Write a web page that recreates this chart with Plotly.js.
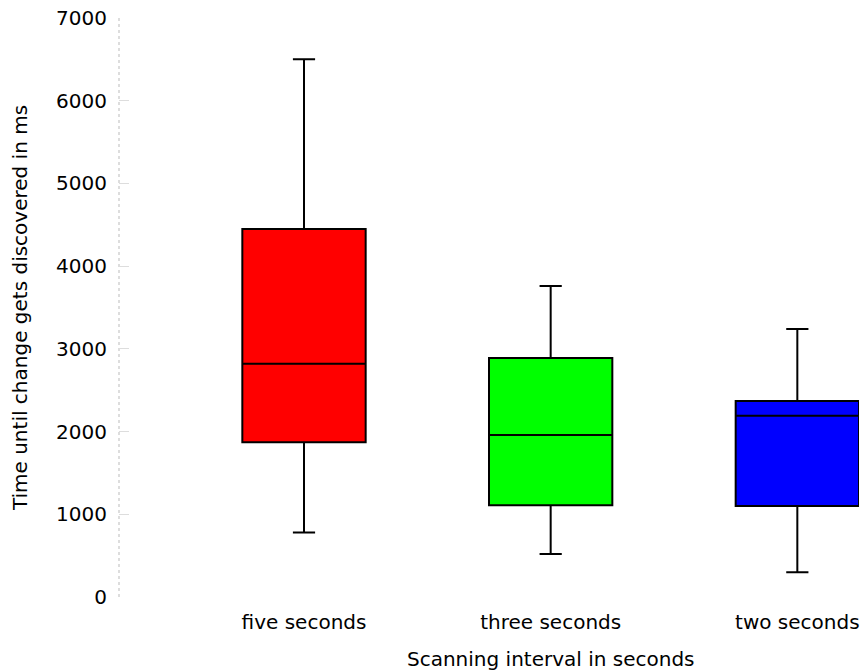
<!DOCTYPE html>
<html>
<head>
<meta charset="utf-8">
<script src="https://cdn.plot.ly/plotly-3.0.1.min.js"></script>
<style>html,body{margin:0;padding:0;background:#fff;}#chart{width:862px;height:671px;}</style>
</head>
<body>
<div id="chart"></div>
<script>
const categories = ['five seconds', 'three seconds', 'two seconds'];
const lowerWhisker = [780, 520, 300];
const q1Values = [1870, 1110, 1100];
const medianValues = [2820, 1960, 2190];
const q3Values = [4450, 2890, 2370];
const upperWhisker = [6500, 3760, 3240];
const boxColors = ['#ff0000', '#00ff00', '#0000ff'];
const yTickValues = [0, 1000, 2000, 3000, 4000, 5000, 6000, 7000];
const xTitle = 'Scanning interval in seconds';
const yTitle = 'Time until change gets discovered in ms';

const traces = categories.map((c, i) => ({
  type: 'box',
  x: [c],
  q1: [q1Values[i]],
  median: [medianValues[i]],
  q3: [q3Values[i]],
  lowerfence: [lowerWhisker[i]],
  upperfence: [upperWhisker[i]],
  fillcolor: boxColors[i],
  line: {color: '#000000', width: 2},
  whiskerwidth: 0.18,
  width: 0.5,
  boxpoints: false,
  hoverinfo: 'skip',
  showlegend: false
}));

const font = {family: 'DejaVu Sans, Verdana, sans-serif', size: 20, color: '#000'};

const layout = {
  width: 862, height: 671,
  margin: {l: 119, r: 3, t: 18, b: 74},
  paper_bgcolor: '#fff', plot_bgcolor: '#fff',
  font: font,
  boxmode: 'overlay',
  showlegend: false,
  xaxis: {
    type: 'category',
    categoryorder: 'array', categoryarray: categories,
    range: [-0.75, 2.25],
    showgrid: false, zeroline: false, showline: false,
    ticks: '', ticklabelstandoff: 11,
    tickfont: font
  },
  yaxis: {
    range: [0, 7000],
    tickvals: yTickValues,
    showgrid: false, zeroline: false, showline: false,
    ticks: 'inside', ticklen: 10, tickwidth: 1, tickcolor: '#dddddd',
    ticklabelstandoff: 11,
    tickfont: font,
    title: {text: yTitle, font: font, standoff: 23}
  },
  annotations: [{
    text: xTitle, xref: 'x', yref: 'paper', x: 1, y: 0,
    yshift: -62, xanchor: 'center', yanchor: 'middle',
    showarrow: false, font: font
  }],
  shapes: [{
    type: 'line', xref: 'paper', yref: 'y', x0: 0, x1: 0, y0: 0, y1: 7000,
    line: {color: '#bbbbbb', width: 1, dash: 'dot'}, layer: 'below'
  }]
};

Plotly.newPlot('chart', traces, layout, {displayModeBar: false, staticPlot: true});
</script>
</body>
</html>
